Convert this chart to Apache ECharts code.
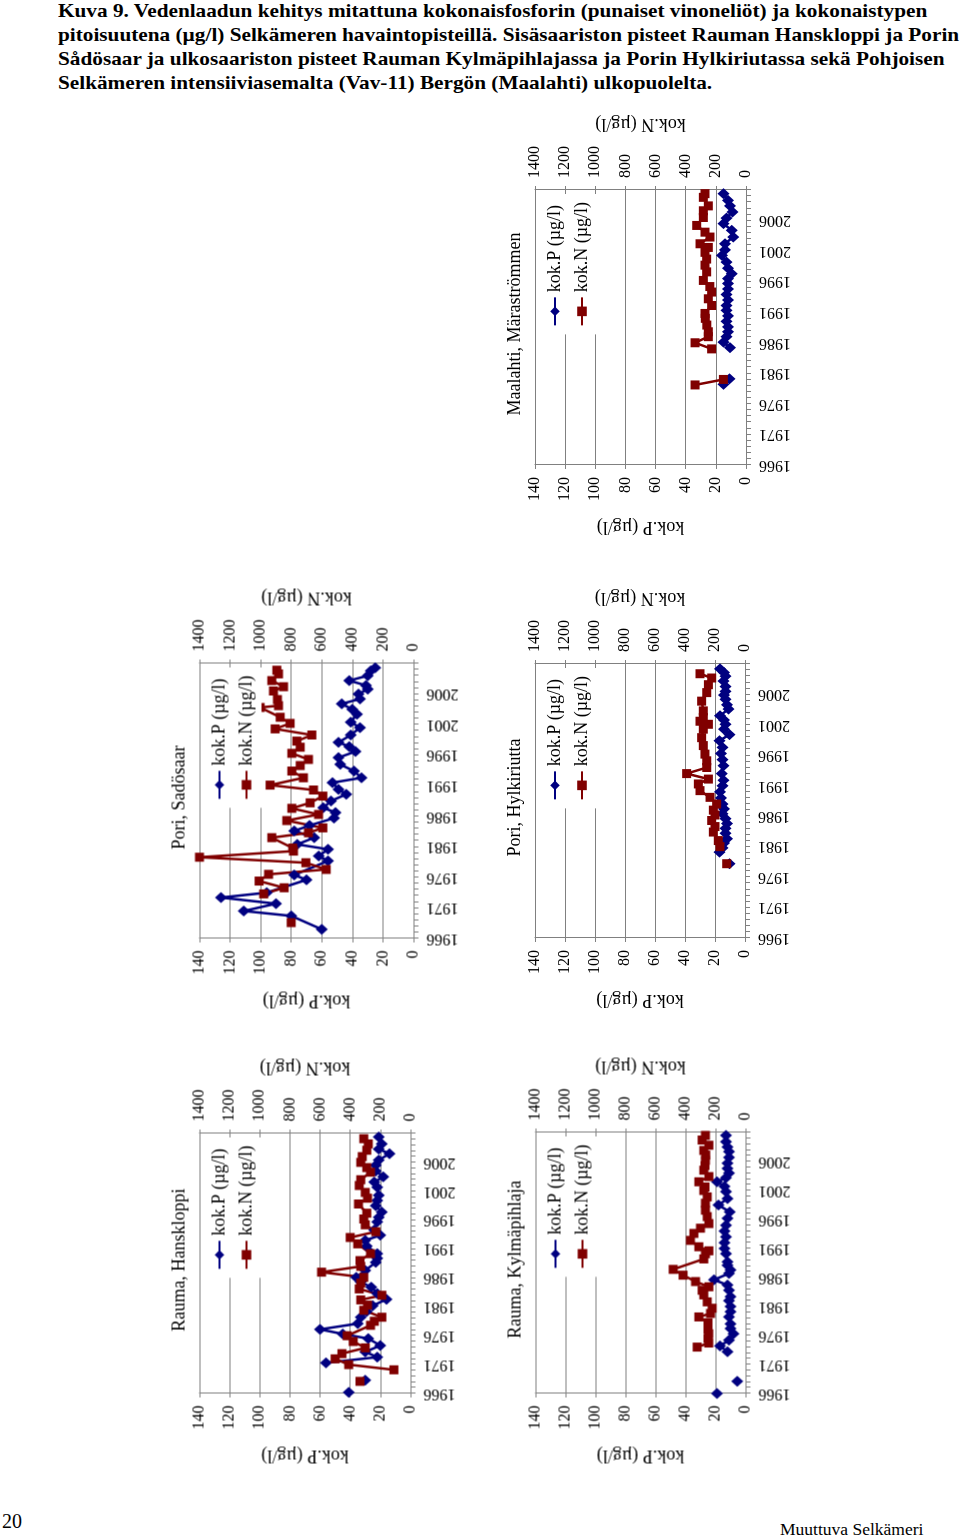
<!DOCTYPE html>
<html>
<head>
<meta charset="utf-8">
<script src="https://cdn.jsdelivr.net/npm/echarts@6/dist/echarts.min.js"></script>
<style>
  body { margin: 0; width: 960px; height: 1538px; position: relative; background: #fff; overflow: hidden;
         font-family: "Liberation Serif", "DejaVu Serif", serif; color: #000; }
  #caption { position: absolute; left: 58px; top: -1px; font-weight: bold; font-size: 19.5px; line-height: 24px;
             white-space: nowrap; transform: scaleX(1.09); transform-origin: 0 0; }
  .chart { position: absolute; transform: rotate(-90deg); }
  #pageno { position: absolute; left: 2px; top: 1511px; font-size: 20px; line-height: 20px; }
  #footer { position: absolute; left: 780px; top: 1521px; font-size: 17.5px; line-height: 17.5px; }
</style>
</head>
<body>
<div id="caption">
  Kuva 9. Vedenlaadun kehitys mitattuna kokonaisfosforin (punaiset vinoneliöt) ja kokonaistypen<br>
  pitoisuutena (µg/l) Selkämeren havaintopisteillä. Sisäsaariston pisteet Rauman Hanskloppi ja Porin<br>
  Sådösaar ja ulkosaariston pisteet Rauman Kylmäpihlajassa ja Porin Hylkiriutassa sekä Pohjoisen<br>
  Selkämeren intensiiviasemalta (Vav-11) Bergön (Maalahti) ulkopuolelta.
</div>
<div id="pageno">20</div>
<div id="footer">Muuttuva Selkämeri</div>

<script>
const FONT = "'Liberation Serif', 'DejaVu Serif', serif"
const P_NAME = 'kok.P (µg/l)'
const N_NAME = 'kok.N (µg/l)'
const yearLabels = [1966, 1971, 1976, 1981, 1986, 1991, 1996, 2001, 2006]

// Maalahti, Märaströmmen
const maalahtiPYears = [1979.2, 1980.1, 1981, 1985.2, 1986.1, 1987.0, 1987.8, 1988.6, 1989.5, 1990.4, 1991.3, 1992.1, 1993.0, 1993.9, 1994.8, 1995.7, 1996.5, 1997.3, 1998.2, 1999.2, 2000.3, 2001.2, 2002.2, 2003.3, 2004.4, 2005.5, 2006.4, 2007.4, 2008.4, 2009.3, 2010.4]
const maalahtiP = [15, 11, null, 10.6, 15, 13, 12, 12, 13, 12, 13, 13, 12, 13, 12, 12, 12, 9.5, 12, 13, 16, 14, 14, 8.4, 9.5, 15, 13, 9, 10.6, 12, 15]
const maalahtiNYears = [1979.1, 1980.0, 1981, 1985.0, 1986.0, 1987.0, 1987.8, 1988.9, 1990.0, 1990.8, 1992.1, 1993.2, 1994.3, 1995.2, 1996.2, 1997.6, 1998.7, 1999.7, 2000.8, 2001.6, 2002.2, 2003.3, 2004.1, 2005.2, 2006.5, 2007.6, 2008.4, 2009.8, 2010.4]
const maalahtiN = [338, 150, null, 228, 338, 250, 250, 260, 270, 272, 228, 250, 228, 240, 283, 261, 272, 261, 272, 250, 305, 239, 272, 327, 283, 283, 250, 283, 272]

// Pori, Sadösaar
const sadPYears = [1967.5, 1969.7, 1970.5, 1971.7, 1972.7, 1973.5, 1975.6, 1976.4, 1978.7, 1979.5, 1980.6, 1981.4, 1982.5, 1983.6, 1984.5, 1985.7, 1986.6, 1987.4, 1988.5, 1989.6, 1990.4, 1991.5, 1992.3, 1993.4, 1994.5, 1995.6, 1996.6, 1997.4, 1998.1, 1999.3, 2000.5, 2001.4, 2002.7, 2003.5, 2004.4, 2005.2, 2006.0, 2006.8, 2007.4, 2008.2, 2009.0, 2009.8, 2010.3]
const sadP = [60, 80, 111, 90, 126, 96, 70, 78, 56, 62, 56, 76, 65, 78, 68, 52, 51, 59, 54, 44, 49, 53, 34, 39, 48, 49, 38, 42, 49, 41, 35, 41, 37, 40, 47, 35, 36, 30, 31, 42, 30, 28, 25]
const sadNYears = [1968.6, 1969, 1973.3, 1974.3, 1975.4, 1976.5, 1977.3, 1978.4, 1979.3, 1980.3, 1980.8, 1982.5, 1983.3, 1984.1, 1985.3, 1986.3, 1987.3, 1988.2, 1989.3, 1990.3, 1991.1, 1992.3, 1993.4, 1994.3, 1995.3, 1996.3, 1997.3, 1998.3, 1999.3, 2000.3, 2001.2, 2002.2, 2003.8, 2004.1, 2005.1, 2006.5, 2007.2, 2008.2, 2009.3, 2009.9]
const sadN = [800, null, 980, 846, 1010, 948, 571, 704, 1400, 785, 790, 927, 687, 593, 829, 621, 796, 676, 593, 654, 938, 720, 796, 741, 687, 796, 741, 763, 665, 905, 807, 872, 1003, 883, 890, 916, 850, 927, 883, 894]

// Pori, Hylkiriutta
const hylPYears = [1978.2, 1979, 1980.1, 1980.8, 1981.6, 1982.3, 1983.2, 1984.0, 1984.8, 1985.6, 1986.4, 1987.2, 1988.0, 1989.0, 1990.0, 1991.0, 1991.9, 1993.0, 1994.3, 1995.3, 1996.3, 1997.3, 1998.4, 1999.4, 2000.3, 2001.1, 2001.8, 2002.5, 2003.6, 2004.3, 2005.2, 2005.9, 2006.5, 2007.3, 2008.2, 2009.0, 2009.6, 2010.2]
const hylP = [10.4, null, 17, 15, 14, 12, 13, 13, 12, 13, 15, 14, 15, 16, 16.7, 15, 14.4, 15.5, 14.4, 15, 16, 15, 17, 10.4, 14, 13, 14, 16.7, 11, 12, 13, 14, 13, 13, 14.4, 13, 14, 16.7]
const hylNYears = [1978.2, 1979, 1981.0, 1982.0, 1983.4, 1984.3, 1985.3, 1986.2, 1987.0, 1988.0, 1989.1, 1990.2, 1991.3, 1992.1, 1993.0, 1994.0, 1995.1, 1996.2, 1997.6, 1998.9, 2000.3, 2001.1, 2001.6, 2002.2, 2003.3, 2004.9, 2006.3, 2007.6, 2008.7, 2009.4]
const hylN = [122, null, 167, 178, 211, 200, 222, 200, 211, 189, 233, 300, 311, 244, 389, 255, 255, 267, 278, 289, 278, 244, 300, 278, 278, 289, 255, 244, 222, 300]

// Rauma, Hanskloppi
const hanPYears = [1966.2, 1967, 1968.3, 1969, 1971.3, 1972.3, 1973.2, 1974.3, 1975.5, 1976.3, 1977.1, 1978.1, 1979.2, 1980.2, 1981.2, 1982.3, 1983.3, 1984.4, 1985.3, 1986.1, 1987.3, 1988.7, 1989.4, 1990.2, 1991.5, 1992.5, 1993.4, 1994.3, 1995.7, 1996.5, 1997.4, 1998.5, 1999.4, 2000.3, 2001.7, 2002.6, 2003.5, 2004.5, 2005.5, 2006.4, 2007.5, 2008.3, 2009.2, 2010.4]
const hanP = [41, null, 30, null, 56, 22, 30, 20, 28, 45, 60, 35, 33, 29, 25, 16, 22, 26, 33, 36, 30, 23, 22, 22, 29, 30, 20, 24, 22, 21, 19, 23, 22, 21, 22, 24, 18, 23, 23, 21, 14, 21, 19, 21]
const hanNYears = [1968.1, 1969, 1970.1, 1971.0, 1972.0, 1972.9, 1973.9, 1975.0, 1976.0, 1977.8, 1978.5, 1979.2, 1980.4, 1981.3, 1982.2, 1983.0, 1984.1, 1985.1, 1986.1, 1987.0, 1988.0, 1989.0, 1990.2, 1991.9, 1993.0, 1994.0, 1995.2, 1996.2, 1997.2, 1998.8, 1999.8, 2000.8, 2002.0, 2003.0, 2004.3, 2005.1, 2006.0, 2007.0, 2008.1, 2009.2, 2010.1]
const hanN = [335, null, 110, 410, 500, 455, 300, 380, 420, 265, 240, 190, 310, 285, 330, 190, 340, 330, 310, 590, 330, 335, 265, 350, 400, 230, 300, 310, 290, 345, 285, 300, 340, 330, 265, 290, 330, 320, 290, 280, 310]

// Rauma, Kylmäpihlaja
const kylPYears = [1966.0, 1967, 1968.1, 1969, 1973.2, 1974.2, 1975.2, 1976.3, 1977.2, 1978.0, 1979.2, 1980.1, 1981.0, 1982.0, 1982.7, 1983.8, 1984.7, 1985.6, 1986.7, 1987.3, 1988.1, 1988.7, 1990.1, 1991.0, 1992.0, 1993.0, 1994.0, 1995.0, 1996.2, 1997.3, 1998.5, 1999.6, 2000.8, 2001.7, 2002.5, 2003.2, 2004.0, 2004.8, 2005.7, 2006.7, 2007.7, 2008.5, 2009.4, 2010.5]
const kylP = [19, null, 5.5, null, 12, 17, 11, 8, 10, 10, 11, 10, 10, 11, 10, 11, 12, 21, 11, 10, 12, 12, 13, 14, 14, 13, 14, 13, 12, 10.5, 18, 12, 13, 14, 19, 13, 11, 12, 12, 11, 11, 12, 13, 13]
const kylNYears = [1974.0, 1974.7, 1975.5, 1976.3, 1977.1, 1978.2, 1979.2, 1979.8, 1980.7, 1981.8, 1983.0, 1983.8, 1984.4, 1985.3, 1986.4, 1987.4, 1989.2, 1990.1, 1990.6, 1991.3, 1992.4, 1993.6, 1994.5, 1995.3, 1996.5, 1997.6, 1998.8, 1999.9, 2001.0, 2001.6, 2002.5, 2003.4, 2004.5, 2005.3, 2006.2, 2007.1, 2007.9, 2008.8, 2009.7, 2010.5]
const kylN = [322, 245, 250, 245, 250, 250, 311, 233, 222, 255, 278, 289, 244, 333, 416, 482, 278, 267, 244, 311, 367, 344, 300, 244, 255, 267, 267, 255, 278, 270, 311, 244, 278, 270, 267, 265, 278, 244, 289, 267]

// margins of the upright chart (before it is turned on the page)
const M = { left: 85, right: 92, top: 45, bottom: 58 }
const GRID = '#808080'

function toPairs(t, v) {
  return t.map((x, i) => [x, v[i] == null ? '-' : v[i]])
}

// box = plot area on the page: x0 (value max), x1 (value 0), y0 (2011), y1 (1966)
function drawChart(title, box, pT, pV, nT, nV) {
  const pw = box.y1 - box.y0
  const ph = box.x1 - box.x0
  const w = M.left + pw + M.right
  const h = M.top + ph + M.bottom
  const cx = (box.x0 - M.top + box.x1 + M.bottom) / 2
  const cy = (box.y0 - M.right + box.y1 + M.left) / 2
  const el = document.createElement('div')
  el.className = 'chart'
  el.style.left = (cx - w / 2) + 'px'
  el.style.top = (cy - h / 2) + 'px'
  el.style.width = w + 'px'
  el.style.height = h + 'px'
  document.body.appendChild(el)

  const chart = echarts.init(el)
  const label = { fontSize: 16, fontFamily: FONT, color: '#000', formatter: v => String(v) }
  chart.setOption({
    animation: false,
    textStyle: { fontFamily: FONT, color: '#000' },
    title: {
      text: title,
      left: 'center',
      top: 11,
      textStyle: { fontSize: 18, fontWeight: 'normal', fontFamily: FONT, color: '#000' }
    },
    legend: {
      orient: 'vertical',
      right: M.right + 4,
      top: M.top + 5,
      itemWidth: 28,
      itemHeight: 12,
      itemGap: 9,
      padding: [6, 8, 6, 8],
      backgroundColor: '#fff',
      textStyle: { fontSize: 18, fontFamily: FONT, color: '#000', lineHeight: 18 },
      data: [P_NAME, N_NAME]
    },
    grid: { left: M.left, right: M.right, top: M.top, bottom: M.bottom, outerBoundsMode: 'none' },
    xAxis: {
      type: 'value',
      min: 1966,
      max: 2011,
      interval: 1,
      axisLine: { show: true, onZero: false, lineStyle: { color: GRID } },
      axisTick: { show: true, length: 5, lineStyle: { color: GRID } },
      splitLine: { show: false },
      axisLabel: Object.assign({}, label, { rotate: 90, margin: 13,
        formatter: v => yearLabels.includes(v) ? String(v) : '' })
    },
    yAxis: [{
      type: 'value',
      min: 0,
      max: 140,
      interval: 20,
      position: 'left',
      name: P_NAME,
      nameLocation: 'middle',
      nameRotate: 90,
      nameGap: 53,
      nameTextStyle: { fontSize: 18, fontFamily: FONT, color: '#000' },
      axisLine: { show: true, lineStyle: { color: GRID } },
      axisTick: { show: true, length: 4, lineStyle: { color: GRID } },
      axisLabel: Object.assign({ margin: 12 }, label),
      splitLine: { show: true, lineStyle: { color: GRID, width: 1 } }
    }, {
      type: 'value',
      min: 0,
      max: 1400,
      interval: 200,
      position: 'right',
      name: N_NAME,
      nameLocation: 'middle',
      nameRotate: 90,
      nameGap: 57,
      nameTextStyle: { fontSize: 18, fontFamily: FONT, color: '#000' },
      axisLine: { show: true, lineStyle: { color: GRID } },
      axisTick: { show: true, length: 4, lineStyle: { color: GRID } },
      axisLabel: Object.assign({ margin: 12 }, label),
      splitLine: { show: false }
    }],
    series: [{
      name: P_NAME,
      type: 'line',
      yAxisIndex: 0,
      symbol: 'diamond',
      symbolSize: [11, 12],
      showAllSymbol: true,
      color: '#000080',
      lineStyle: { width: 2.5, color: '#000080' },
      itemStyle: { color: '#000080' },
      data: toPairs(pT, pV)
    }, {
      name: N_NAME,
      type: 'line',
      yAxisIndex: 1,
      symbol: 'rect',
      symbolSize: 9,
      showAllSymbol: true,
      color: '#800000',
      lineStyle: { width: 2.5, color: '#800000' },
      itemStyle: { color: '#800000' },
      data: toPairs(nT, nV)
    }]
  })
}

drawChart('Maalahti, Märaströmmen', { x0: 535, x1: 746, y0: 190, y1: 465 },
  maalahtiPYears, maalahtiP, maalahtiNYears, maalahtiN)
drawChart('Pori, Sadösaar', { x0: 199, x1: 413, y0: 663, y1: 938 },
  sadPYears, sadP, sadNYears, sadN)
drawChart('Pori, Hylkiriutta', { x0: 535, x1: 745, y0: 664, y1: 938 },
  hylPYears, hylP, hylNYears, hylN)
drawChart('Rauma, Hanskloppi', { x0: 199, x1: 410, y0: 1133, y1: 1393 },
  hanPYears, hanP, hanNYears, hanN)
drawChart('Rauma, Kylmäpihlaja', { x0: 535, x1: 745, y0: 1132, y1: 1393 },
  kylPYears, kylP, kylNYears, kylN)
</script>
</body>
</html>
